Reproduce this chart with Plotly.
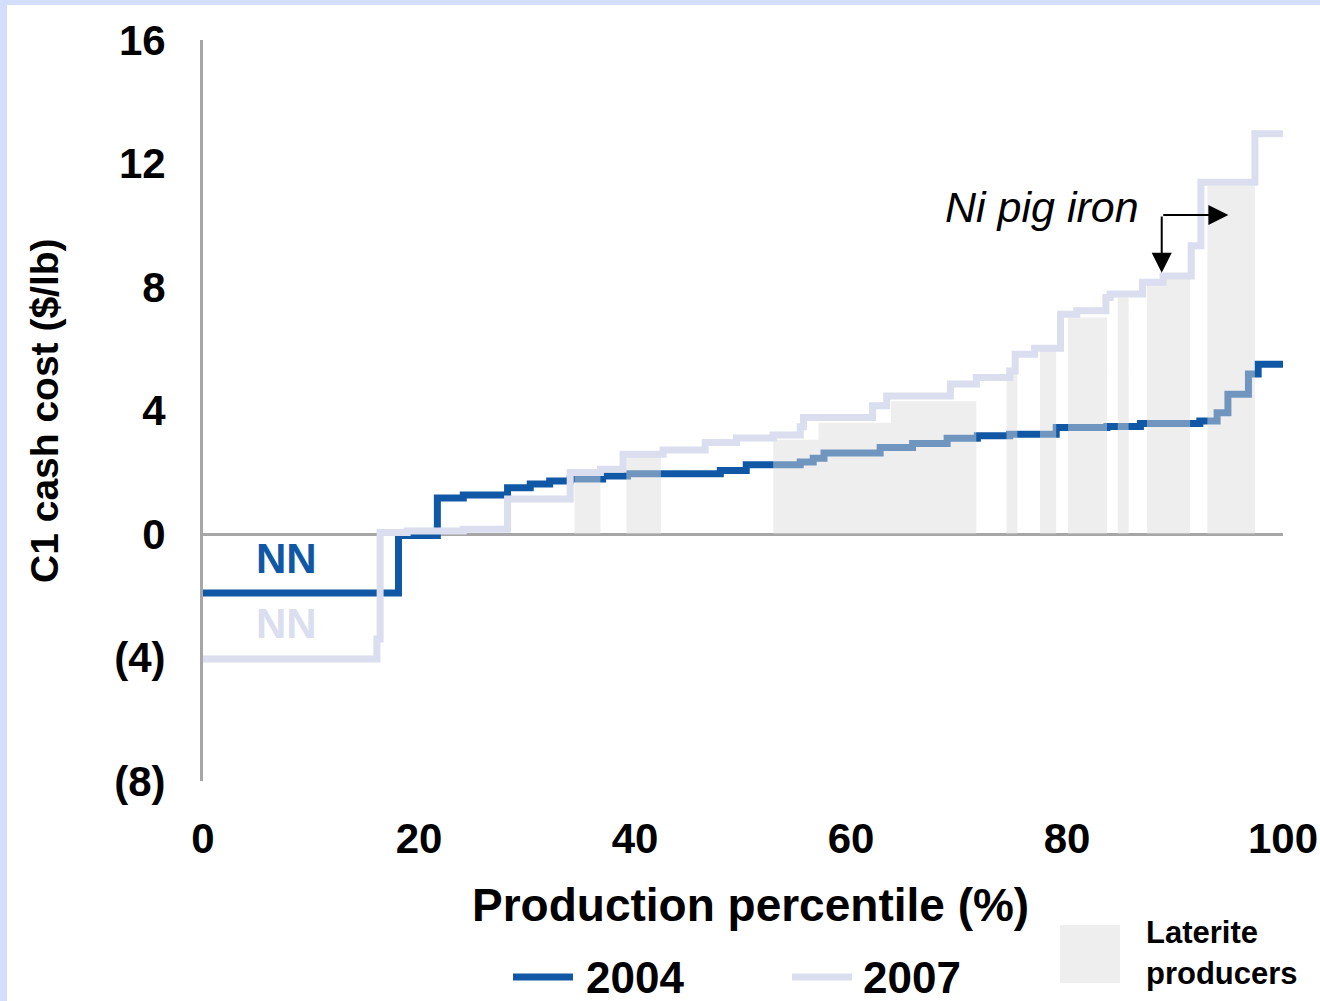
import plotly.graph_objects as go

# 2004 cost curve: step starts (production percentile) and C1 cash cost ($/lb)
x_2004 = [0, 18.1, 21.7, 24.1, 28.2, 30.3, 32.1, 34.0, 37.0, 39.3, 47.9, 50.3,
          55.3, 56.5, 57.5, 62.7, 65.7, 68.9, 71.7, 74.7, 79.0, 83.7, 86.8,
          92.3, 93.9, 94.9, 96.8, 97.7, 100]
y_2004 = [-1.91, -0.05, 1.17, 1.26, 1.50, 1.62, 1.72, 1.78, 1.88, 1.95, 2.06, 2.24,
          2.33, 2.45, 2.62, 2.80, 2.93, 3.10, 3.18, 3.23, 3.45, 3.48, 3.58,
          3.66, 3.93, 4.53, 5.18, 5.50, 5.50]

# 2007 cost curve
x_2007 = [0, 16.1, 16.4, 18.9, 24.1, 28.2, 34.0, 36.8, 38.9, 42.6, 46.5, 49.4,
          52.8, 55.3, 55.6, 62.0, 63.3, 69.2, 71.6, 74.7, 75.2, 77.0, 79.4,
          80.9, 83.6, 84.0, 87.0, 88.9, 91.5, 92.4, 97.4, 100]
y_2007 = [-4.05, -3.40, 0.05, 0.10, 0.15, 1.13, 1.99, 2.10, 2.58, 2.72, 2.96, 3.11,
          3.21, 3.47, 3.77, 4.15, 4.47, 4.86, 5.07, 5.28, 5.82, 6.02, 7.12,
          7.23, 7.66, 7.77, 8.15, 8.36, 9.34, 11.39, 12.96, 12.96]

# laterite producers (2007): start, end, cost
lat_start = [34.4, 39.2, 52.8, 57.0, 63.7, 74.4, 77.5, 80.1, 84.7, 87.4, 93.0]
lat_end = [36.8, 42.4, 57.0, 63.7, 71.6, 75.4, 79.0, 83.7, 85.7, 91.4, 97.4]
lat_cost = [1.94, 2.50, 3.05, 3.60, 4.30, 5.20, 5.93, 7.01, 7.66, 8.26, 11.28]

x_ticks = [0, 20, 40, 60, 80, 100]
y_ticks = [-8, -4, 0, 4, 8, 12, 16]
y_ticktext = ["(8)", "(4)", "0", "4", "8", "12", "16"]

BLUE = "#1058a6"
LAV = "#dadeee"
FONT = "Liberation Sans, Arial, sans-serif"

W, H = 1320, 1001
L, R, T, B = 203, 37, 40, 220


def px_x(p):
    return (p - L) / (W - L - R)


def px_y(p):
    return (H - B - p) / (H - T - B)


# rectangles as one filled trace
rx, ry = [], []
for a, b, c in zip(lat_start, lat_end, lat_cost):
    rx += [a, b, b, a, a, None]
    ry += [0, 0, c, c, 0, None]

fig = go.Figure()
fig.add_trace(go.Scatter(x=x_2004, y=y_2004, mode="lines", line_shape="hv",
                         line=dict(color=BLUE, width=7), showlegend=False,
                         hoverinfo="skip"))
fig.add_trace(go.Scatter(x=rx, y=ry, mode="lines", fill="toself",
                         fillcolor="rgba(219,219,219,0.475)",
                         line=dict(width=0), showlegend=False, hoverinfo="skip"))
fig.add_trace(go.Scatter(x=x_2007, y=y_2007, mode="lines", line_shape="hv",
                         line=dict(color=LAV, width=7), showlegend=False,
                         hoverinfo="skip"))

fig.update_layout(
    width=W, height=H,
    margin=dict(l=L, r=R, t=T, b=B, autoexpand=False),
    plot_bgcolor="white", paper_bgcolor="white",
    font=dict(family=FONT, color="black"),
    xaxis=dict(range=[0, 100], tickvals=x_ticks, showgrid=False, zeroline=False,
               showline=False, ticks="", ticklabelstandoff=29, automargin=False,
               tickfont=dict(size=42, weight="bold")),
    yaxis=dict(range=[-8, 16], tickvals=y_ticks, ticktext=y_ticktext,
               showgrid=False, zeroline=True, zerolinecolor="#a6a6a6",
               zerolinewidth=3, showline=True, linecolor="#a6a6a6", linewidth=3,
               ticks="", ticklabelstandoff=26, automargin=False,
               tickfont=dict(size=42, weight="bold")),
)

# light blue frame on the top and left edges
fig.add_shape(type="rect", xref="paper", yref="paper", x0=px_x(0), x1=px_x(W),
              y0=px_y(5), y1=px_y(0), fillcolor="#d3defb", line_width=0, layer="below")
fig.add_shape(type="rect", xref="paper", yref="paper", x0=px_x(0), x1=px_x(7),
              y0=px_y(H), y1=px_y(0), fillcolor="#d3defb", line_width=0, layer="below")

# axis titles
fig.add_annotation(text="<b>Production percentile (%)</b>", xref="paper", yref="paper",
                   x=px_x(750), y=px_y(905), showarrow=False,
                   font=dict(size=46), xanchor="center", yanchor="middle")
fig.add_annotation(text="<b>C1 cash cost ($/lb)</b>", xref="paper", yref="paper",
                   x=px_x(45), y=px_y(411), showarrow=False, textangle=-90,
                   font=dict(size=39), xanchor="center", yanchor="middle")

# NN labels
fig.add_annotation(text="<b>NN</b>", x=7.7, y=-0.8, showarrow=False,
                   font=dict(size=42, color=BLUE))
fig.add_annotation(text="<b>NN</b>", x=7.7, y=-2.9, showarrow=False,
                   font=dict(size=42, color=LAV))

# Ni pig iron callout
fig.add_annotation(text="<i>Ni pig iron</i>", x=86.85, y=10.58, showarrow=False,
                   xanchor="right", yanchor="middle", font=dict(size=43))
fig.add_annotation(x=88.77, y=8.46, ax=88.77, ay=10.33, axref="x", ayref="y",
                   text="", showarrow=True, arrowhead=2, arrowsize=2,
                   arrowwidth=2, arrowcolor="black")
fig.add_annotation(x=94.94, y=10.33, ax=88.77, ay=10.33, axref="x", ayref="y",
                   text="", showarrow=True, arrowhead=2, arrowsize=2,
                   arrowwidth=2, arrowcolor="black")

# hand-made legend
fig.add_shape(type="line", xref="paper", yref="paper", x0=px_x(513), x1=px_x(573),
              y0=px_y(977), y1=px_y(977), line=dict(color=BLUE, width=7))
fig.add_annotation(text="<b>2004</b>", xref="paper", yref="paper", x=px_x(584),
                   y=px_y(977), xanchor="left", yanchor="middle", showarrow=False,
                   font=dict(size=44))
fig.add_shape(type="line", xref="paper", yref="paper", x0=px_x(792), x1=px_x(852),
              y0=px_y(977), y1=px_y(977), line=dict(color=LAV, width=7))
fig.add_annotation(text="<b>2007</b>", xref="paper", yref="paper", x=px_x(861),
                   y=px_y(977), xanchor="left", yanchor="middle", showarrow=False,
                   font=dict(size=44))
fig.add_shape(type="rect", xref="paper", yref="paper", x0=px_x(1060), x1=px_x(1120),
              y0=px_y(983), y1=px_y(925), fillcolor="#eeeeee", line_width=0)
fig.add_annotation(text="<b>Laterite</b>", xref="paper", yref="paper", x=px_x(1144),
                   y=px_y(932), xanchor="left", yanchor="middle", showarrow=False,
                   font=dict(size=31))
fig.add_annotation(text="<b>producers</b>", xref="paper", yref="paper", x=px_x(1144),
                   y=px_y(973), xanchor="left", yanchor="middle", showarrow=False,
                   font=dict(size=31))

fig.write_html("out.html", config={"displayModeBar": False},
               post_script="document.body.style.margin='0';"
                           "document.body.style.overflow='hidden';")
